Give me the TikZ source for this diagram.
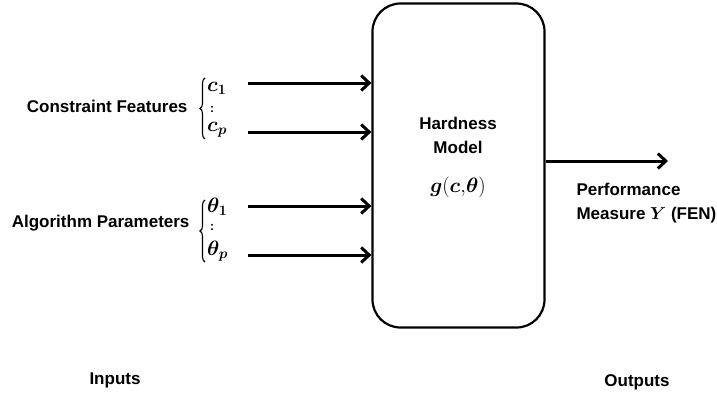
\documentclass[tikz,border=0pt]{standalone}
\usepackage{amsmath,bm}
\usepackage{fontspec}
\setmainfont{Liberation Sans}
\usetikzlibrary{arrows.meta,positioning,decorations.pathreplacing}

\begin{document}
\begin{tikzpicture}[x=1pt,y=-1pt,
	font=\fontsize{17}{24}\selectfont\bfseries,
	arr/.style={-{Straight Barb[length=8pt,width=15pt]},line width=3pt},
	brc/.style={decorate,decoration={brace,amplitude=5pt},line width=1.1pt},
	sym/.style={anchor=west,inner sep=0pt,font=\fontsize{20}{24}\selectfont\bfseries},
	dots/.style={anchor=west,inner sep=0pt,font=\fontsize{12}{12}\selectfont\bfseries}]
		\useasboundingbox (0,0) rectangle (717,396);
		
		% the model
		\node[draw,line width=2.2pt,rounded corners=28pt,minimum width=172pt,minimum height=324pt] (model) at (458.5,165.5) {};
		\node[align=center] (hm) at (458,135) {Hardness\\Model};
		\node[font=\fontsize{20}{24}\selectfont] (g) at (458,187) {$\bm{g}(\bm{c}{,}\bm{\theta})$};
		
		% inputs
		\node[anchor=east] (cf) at (191,106) {Constraint Features};
		\node[anchor=east] (ap) at (193,223) {Algorithm Parameters};
		\draw[brc] (205,139) -- (205,78);
		\draw[brc] (205,262) -- (205,200);
		\node[sym] (c1) at (207,88) {$\bm{c}_{\bm{1}}$};
		\node[dots] (cd) at (210,109) {:};
		\node[sym] (cp) at (207,130) {$\bm{c}_{\bm{p}}$};
		\node[sym] (t1) at (207,207) {$\bm{\theta}_{\bm{1}}$};
		\node[dots] (td) at (210,227) {:};
		\node[sym] (tp) at (207,251) {$\bm{\theta}_{\bm{p}}$};
		\foreach \n/\y in {c1/83,cp/132,t1/206,tp/255}{
			\coordinate (\n-in) at (248,\y);
			\draw[arr] (\n-in) -- (\n-in -| model.west);
		}
		
		% output
		\coordinate (out) at (668,161);
		\draw[arr] (model.east |- out) -- (out);
		\node[anchor=west,align=left] (perf) at (573,203) {Performance\\Measure {\fontsize{19}{24}\selectfont$\bm{Y}$} (FEN)};
		
		\node (in) at (115,380) {Inputs};
		\node (outs) at (637,382) {Outputs};
		\end{tikzpicture}
\end{document}
